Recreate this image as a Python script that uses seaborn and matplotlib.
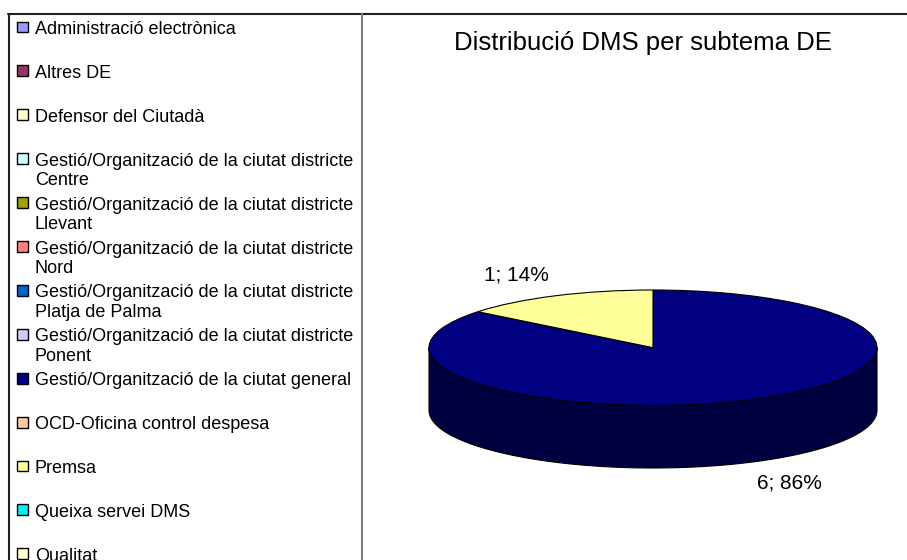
import numpy as np
import matplotlib
matplotlib.use("Agg")
import matplotlib.pyplot as plt
from matplotlib.patches import Polygon
from matplotlib.lines import Line2D
import seaborn as sns

# data
categories = [
    "Administració electrònica",
    "Altres DE",
    "Defensor del Ciutadà",
    "Gestió/Organització de la ciutat districte\nCentre",
    "Gestió/Organització de la ciutat districte\nLlevant",
    "Gestió/Organització de la ciutat districte\nNord",
    "Gestió/Organització de la ciutat districte\nPlatja de Palma",
    "Gestió/Organització de la ciutat districte\nPonent",
    "Gestió/Organització de la ciutat general",
    "OCD-Oficina control despesa",
    "Premsa",
    "Queixa servei DMS",
    "Qualitat",
]
counts = [0, 0, 0, 0, 0, 0, 0, 0, 6, 0, 1, 0, 0]
colors = ["#9999FF", "#993366", "#FFFFCC", "#CCFFFF", "#A0A000", "#FF8080",
          "#0066CC", "#CCCCFF", "#000080", "#FFCC99", "#FFFF99", "#00F0F0",
          "#FFFFCC"]
title = "Distribució DMS per subtema DE"

sns.set_theme(style="white")
plt.rcParams['font.family'] = ['Liberation Sans', 'DejaVu Sans']
plt.rcParams['text.color'] = 'black'

W, H = 907, 560
fig = plt.figure(figsize=(W / 100, H / 100), dpi=100)


def fx(px):
    return px / W


def fy(py):
    return 1 - py / H


# chart frame and legend box
fig.add_artist(Line2D([fx(8), 1], [fy(14), fy(14)], color="#202020", lw=1.5))
fig.add_artist(Line2D([fx(9), fx(9)], [fy(14), 0], color="#202020", lw=1.5))
fig.add_artist(Line2D([fx(362), fx(362)], [fy(14), 0], color="#808080", lw=1.5))

# legend drawn in its own axes (pixel units); the last entry is cut by the
# bottom edge just like in the original
ax_leg = fig.add_axes([fx(9), 0, fx(362) - fx(9), fy(14)])
ax_leg.set_xlim(0, 353)
ax_leg.set_ylim(H - 14, 0)
ax_leg.axis("off")
slot_y = 13 + 43.9 * np.arange(len(categories))
ax_leg.scatter(np.full(len(categories), 13.5), slot_y, marker="s", s=62,
               c=colors, edgecolors="black", linewidths=1.0, clip_on=False)
for y, lab in zip(slot_y, categories):
    ax_leg.text(26, y - 6, lab, fontsize=13, va="top", ha="left",
                linespacing=1.2, clip_on=False)

# 3D-looking pie
depth = 63 / 58
ax = fig.add_axes([fx(429), fy(468), (877 - 429) / W, (468 - 290) / H])
vals = [v for v in counts if v > 0]
cols = [c for v, c in zip(counts, colors) if v > 0]
wedges, _ = ax.pie(vals, colors=cols, startangle=90, counterclock=False,
                   wedgeprops=dict(edgecolor="black", linewidth=0.8, zorder=3))
ax.set_aspect("auto")
ax.set_xlim(-1, 1)
ax.set_ylim(-1 - depth, 1)
ax.axis("off")

total = sum(vals)
for w, v, c in zip(wedges, vals, cols):
    w.set_clip_on(False)
    t1, t2 = w.theta1, w.theta2
    rgb = np.array(matplotlib.colors.to_rgb(c)) * 0.5
    for k in range(-2, 3):
        lo, hi = 180 + 360 * k, 360 + 360 * k
        a, b = max(t1, lo), min(t2, hi)
        if b > a:
            th = np.radians(np.linspace(a, b, 120))
            top = np.column_stack([np.cos(th), np.sin(th)])
            bot = np.column_stack([np.cos(th), np.sin(th) - depth])[::-1]
            ax.add_patch(Polygon(np.vstack([top, bot]), closed=True, facecolor=rgb,
                                 edgecolor="black", linewidth=0.8, zorder=2,
                                 clip_on=False))
    mid = np.radians((t1 + t2) / 2)
    lx, ly = 1.4 * np.cos(mid), 1.4 * np.sin(mid)
    if np.sin(mid) < 0:
        ly -= depth
    ax.text(lx, ly, f"{v}; {v / total * 100:.0f}%", fontsize=15,
            ha="center", va="center")

fig.text(fx(643), fy(43), title, fontsize=18.5, ha="center", va="center")

fig.savefig("out.png", dpi=100)
